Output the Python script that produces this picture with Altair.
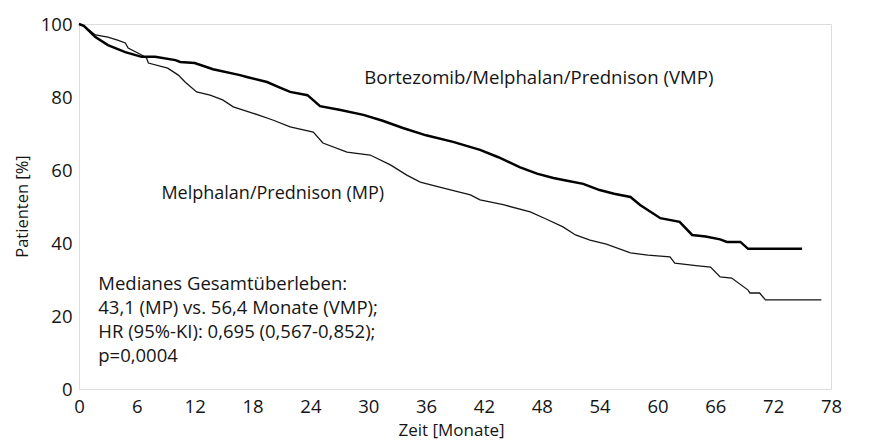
import altair as alt
import pandas as pd

# Kaplan-Meier curves (month, % patients)
vmp_month = [0, 0.5, 1.7, 3.0, 4.8, 6.5, 7.9, 10.0, 10.5, 12.0, 13.9, 16.7, 17.4, 19.5,
             20.9, 21.9, 23.7, 25.0, 27.0, 29.5, 31.5, 33.6, 36.0, 38.8, 41.6, 43.5,
             45.7, 47.5, 49.2, 50.5, 52.3, 54.0, 55.5, 57.2, 58.2, 60.3, 62.3, 63.6,
             65.0, 66.5, 67.2, 68.6, 69.4, 75.0]
vmp_surv = [100, 99.5, 96.4, 94.2, 92.3, 91.0, 91.0, 90.1, 89.6, 89.3, 87.6, 86.0, 85.5, 84.1,
            82.5, 81.4, 80.5, 77.5, 76.5, 75.1, 73.5, 71.5, 69.5, 67.7, 65.5, 63.5,
            60.8, 59.0, 57.8, 57.1, 56.2, 54.5, 53.5, 52.6, 50.4, 46.8, 45.8, 42.2,
            41.8, 41.0, 40.3, 40.3, 38.4, 38.4]

mp_month = [0, 0.5, 1.7, 3.0, 4.0, 4.8, 5.1, 6.5, 7.0, 7.2, 9.2, 10.3, 11.0, 12.2, 13.6,
            14.9, 16.0, 18.0, 20.1, 21.9, 24.3, 25.3, 27.8, 30.2, 32.3, 34.0, 35.4, 37.4,
            40.6, 41.6, 44.0, 46.8, 48.5, 50.2, 51.5, 53.0, 54.7, 57.2, 59.0, 61.3, 61.8,
            64.0, 65.5, 66.5, 67.7, 69.4, 69.6, 70.6, 71.2, 77.0]
mp_surv = [100, 99.5, 97.0, 96.4, 95.6, 94.8, 93.4, 91.5, 90.7, 89.3, 87.9, 86.0, 84.1, 81.4, 80.5,
           79.2, 77.3, 75.6, 73.7, 71.8, 70.4, 67.4, 64.9, 64.1, 61.4, 58.6, 56.7, 55.3,
           53.2, 51.8, 50.5, 48.5, 46.5, 44.4, 42.2, 40.8, 39.7, 37.3, 36.7, 36.2, 34.5,
           33.8, 33.4, 30.7, 30.4, 27.1, 26.3, 26.3, 24.4, 24.4]

x_ticks = list(range(0, 79, 6))
y_ticks = [0, 20, 40, 60, 80, 100]

label_vmp = "Bortezomib/Melphalan/Prednison (VMP)"
label_mp = "Melphalan/Prednison (MP)"
note_lines = ["Medianes Gesamtüberleben:",
              "43,1 (MP) vs.  56,4 Monate (VMP);",
              "HR (95%-KI): 0,695 (0,567-0,852);",
              "p=0,0004"]

FONT = "Open Sans"
INK = "#151515"

vmp_df = pd.DataFrame({"month": vmp_month, "surv": vmp_surv})
mp_df = pd.DataFrame({"month": mp_month, "surv": mp_surv})

xscale = alt.Scale(domain=[0, 78], nice=False, zero=False)
yscale = alt.Scale(domain=[0, 100], nice=False)

xaxis = alt.Axis(values=x_ticks, title="Zeit [Monate]", grid=False, domain=False, ticks=False,
                 labelFlush=False, labelOverlap=False,
                 labelFont=FONT, labelFontSize=18.5, labelColor=INK, labelPadding=8,
                 titleFont=FONT, titleFontSize=17, titleFontWeight="normal", titleColor=INK,
                 titleX=372, titleY=41, titleBaseline="middle")
yaxis = alt.Axis(values=y_ticks, title="Patienten [%]", grid=False, domain=False, ticks=False,
                 labelFlush=False, labelOverlap=False,
                 labelFont=FONT, labelFontSize=18.5, labelColor=INK, labelPadding=7,
                 titleFont=FONT, titleFontSize=16.5, titleFontWeight="normal", titleColor=INK,
                 titleX=-57, titleY=182, titleAngle=-90, titleBaseline="middle", titleAlign="center")

mp_line = alt.Chart(mp_df).mark_line(color=INK, strokeWidth=1.3).encode(
    x=alt.X("month:Q", scale=xscale, axis=xaxis),
    y=alt.Y("surv:Q", scale=yscale, axis=yaxis),
    order="month:Q",
)
vmp_line = alt.Chart(vmp_df).mark_line(color="#000000", strokeWidth=2.5).encode(
    x=alt.X("month:Q", scale=xscale),
    y=alt.Y("surv:Q", scale=yscale),
    order="month:Q",
)

t_vmp = alt.Chart().mark_text(text=label_vmp, font=FONT, fontSize=18.6, color=INK,
                              align="center", baseline="middle").encode(
    x=alt.datum(47.7), y=alt.datum(85.2))
t_mp = alt.Chart().mark_text(text=label_mp, font=FONT, fontSize=18, color=INK,
                             align="center", baseline="middle").encode(
    x=alt.datum(20.1), y=alt.datum(53.5))
t_note = alt.Chart().mark_text(text=note_lines, font=FONT, fontSize=18.5, color=INK, lineHeight=24,
                               align="left", baseline="top").encode(
    x=alt.datum(2.0), y=alt.datum(31.2))

chart = alt.layer(mp_line, vmp_line, t_vmp, t_mp, t_note).properties(
    width=752, height=365,
    autosize=alt.AutoSizeParams(type="none"),
    padding={"left": 71, "top": 16, "right": 45, "bottom": 51},
).configure_view(stroke=None).configure(background="white")

chart.save("out.html", embed_options={"renderer": "svg", "actions": False})
